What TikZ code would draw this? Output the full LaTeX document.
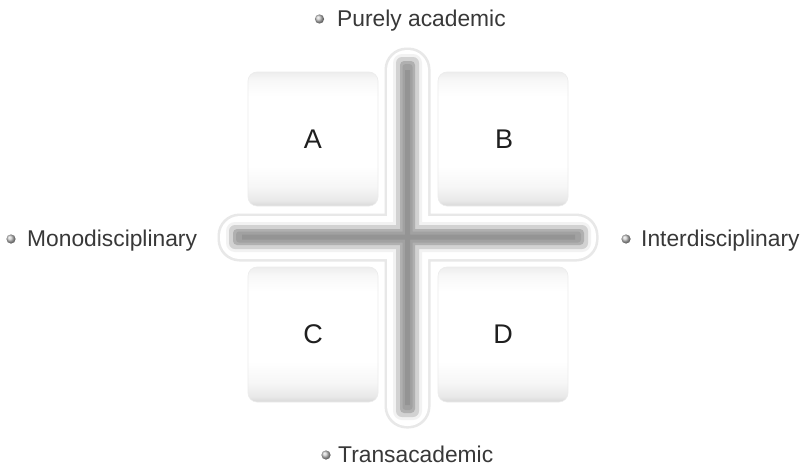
\documentclass[tikz,border=0pt]{standalone}
\usepackage{fontspec}
\setmainfont{Liberation Sans}
\pgfdeclareverticalshading{quadshade}{100bp}{color(0bp)=(gray!30); color(25bp)=(gray!30); color(27bp)=(gray!18); color(32bp)=(gray!7); color(40bp)=(white); color(66bp)=(white); color(72bp)=(gray!6); color(75bp)=(gray!14); color(100bp)=(gray!14)}
\begin{document}
\begin{tikzpicture}[x=1pt,y=-1pt,
  quad/.style={rounded corners=9pt, shading=quadshade, draw=gray!15, line width=0.6pt},
  quadletter/.style={font=\fontsize{27}{30}\selectfont, text=black!88},
  axislabel/.style={anchor=base west, inner sep=0pt, font=\fontsize{22.8}{27}\selectfont, text=black!78},
  dot/.style={ball color=gray!45, draw=none}]
\useasboundingbox (0,0) rectangle (806,466);
\fill[white] (0,0) rectangle (806,466);
% quadrant boxes
\shade[quad] (248,72) rectangle (378,206);
\shade[quad] (438,72) rectangle (568,206);
\shade[quad] (248,267) rectangle (378,402);
\shade[quad] (438,267) rectangle (568,402);
\node[quadletter] (a) at (313,139) {A};
\node[quadletter] (b) at (504,139) {B};
\node[quadletter] (c) at (313,334) {C};
\node[quadletter] (d) at (503,334) {D};
% cross: outer ring
\fill[gray!18, rounded corners=22pt] (384.5,47.5) rectangle (430.5,428.5) (217.5,213.5) rectangle (598.5,261.5);
\fill[white, rounded corners=20pt] (387,50) rectangle (428,426) (220,216) rectangle (596,259);
% halo
\fill[gray!10, rounded corners=9pt] (393,54) rectangle (422,420) (226,222) rectangle (591,252);
\fill[gray!35, rounded corners=6pt] (396,57) rectangle (419,417) (229,225) rectangle (588,249);
% bar
\fill[gray!62, rounded corners=4pt] (400,61) rectangle (415,413) (233,229) rectangle (584,245);
\fill[gray!74, rounded corners=3pt] (402.5,64) rectangle (412.5,410) (236,231.5) rectangle (581,242.5);
\fill[gray!84] (405,70) rectangle (410,405) (242,234.5) rectangle (575,239.5);
% labels
\shade[dot] (319.5,19) circle (4.6);
\node[axislabel] (top) at (337,26) {Purely academic};
\shade[dot] (11,239) circle (4.6);
\node[axislabel] (left) at (27,246) {Monodisciplinary};
\shade[dot] (626,239) circle (4.6);
\node[axislabel] (right) at (641,246) {Interdisciplinary};
\shade[dot] (326,455) circle (4.6);
\node[axislabel] (bottom) at (338,462) {Transacademic};
\end{tikzpicture}
\end{document}
